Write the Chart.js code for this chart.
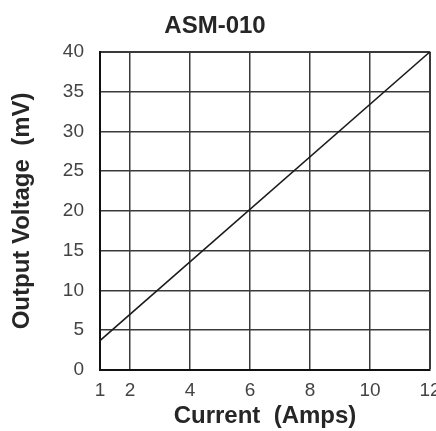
<!DOCTYPE html>
<html>
<head>
<meta charset="utf-8">
<script src="https://cdn.jsdelivr.net/npm/chart.js@4/dist/chart.umd.min.js"></script>
<style>
  html, body { margin: 0; padding: 0; background: #fff; }
  #wrap { width: 436px; height: 431px; }
</style>
</head>
<body>
<div id="wrap"><canvas id="chart" width="436" height="431"></canvas></div>
<script>
// values
const currentAmps = [1, 12];
const outputMv = [3.7, 40];
const xTicks = [1, 2, 4, 6, 8, 10, 12];
const yTicks = [0, 5, 10, 15, 20, 25, 30, 35, 40];

const labelFont = { family: "'Liberation Sans', Arial, sans-serif", size: 24, weight: 'bold' };
const tickFont = { family: "'Liberation Sans', Arial, sans-serif", size: 19 };

function pickTicks(list) {
    return function (scale) {
        scale.ticks = list.map(v => ({ value: v }));
    };
}

new Chart(document.getElementById('chart').getContext('2d'), {
    type: 'scatter',
    data: {
        datasets: [{
            label: 'ASM-010',
            data: currentAmps.map((x, i) => ({ x: x, y: outputMv[i] })),
            showLine: true,
            borderColor: '#1a1a1a',
            borderWidth: 1.5,
            pointRadius: 0
        }]
    },
    options: {
        responsive: false,
        animation: false,
        layout: { padding: { top: 0, right: 6, left: 0, bottom: 0 } },
        plugins: {
            legend: { display: false },
            tooltip: { enabled: false },
            title: {
                display: true,
                text: 'ASM-010',
                color: '#262626',
                font: { family: "'Liberation Sans', Arial, sans-serif", size: 24, weight: 'bold' },
                padding: { top: 12, bottom: 11 }
            }
        },
        scales: {
            x: {
                type: 'linear',
                min: 1,
                max: 12,
                afterBuildTicks: pickTicks(xTicks),
                afterFit: function (scale) {
                    scale.height = 61;
                    scale.paddingLeft = 0;
                    scale.paddingRight = 0;
                },
                grid: {
                    color: '#3a3a3a',
                    lineWidth: ctx => (ctx.tick && ctx.tick.value === 12 ? 2 : 1.5),
                    drawTicks: false
                },
                border: { color: '#111', width: 2 },
                ticks: { color: '#444', font: tickFont, padding: 9, maxRotation: 0 },
                title: { display: true, text: 'Current  (Amps)', color: '#262626', font: labelFont, padding: { top: 0, bottom: 0 } }
            },
            y: {
                min: 0,
                max: 40,
                afterBuildTicks: pickTicks(yTicks),
                afterFit: function (scale) {
                    scale.width = 100;
                    scale.paddingTop = 0;
                    scale.paddingBottom = 0;
                },
                grid: {
                    color: '#3a3a3a',
                    lineWidth: ctx => (ctx.tick && ctx.tick.value === 40 ? 2 : 1.5),
                    drawTicks: false
                },
                border: { color: '#111', width: 2 },
                ticks: { color: '#444', font: tickFont, padding: 16 },
                title: { display: true, text: 'Output Voltage  (mV)', color: '#262626', font: labelFont, padding: { top: 8, bottom: 0 } }
            }
        }
    }
});
</script>
</body>
</html>
